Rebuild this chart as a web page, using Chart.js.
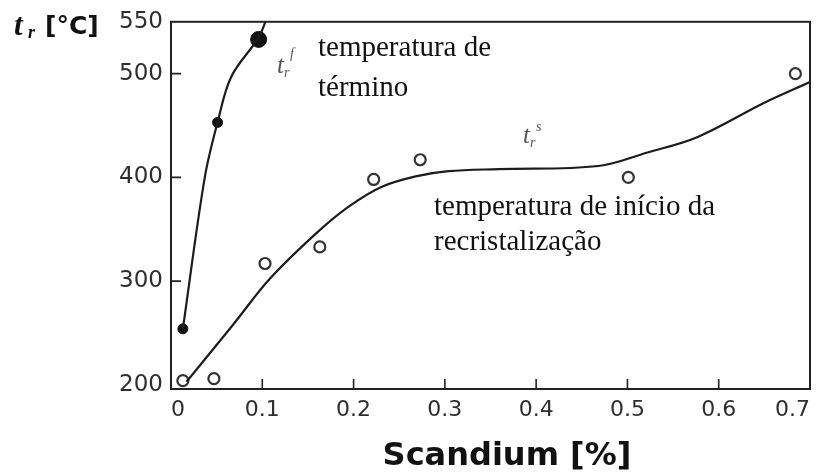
<!DOCTYPE html>
<html>
<head>
<meta charset="utf-8">
<script src="https://cdn.jsdelivr.net/npm/chart.js@4"></script>
<style>
  html, body { margin: 0; padding: 0; background: #fff; }
  #chart { display: block; }
</style>
</head>
<body>
<canvas id="chart" width="819" height="475"></canvas>
<script>
// recrystallisation temperatures vs scandium content
const xTicks = [0, 0.1, 0.2, 0.3, 0.4, 0.5, 0.6, 0.7];
const xTickLabels = ["0", "0.1", "0.2", "0.3", "0.4", "0.5", "0.6", "0.7"];
const yTicks = [200, 300, 400, 500, 550];
const yTickLabels = ["200", "300", "400", "500", "550"];

// end of recrystallisation (filled dots + curve)
const finishX = [0.013, 0.051, 0.096];
const finishY = [254, 453, 533];
const finishSize = [5, 5, 8];
const finishCurveX = [0.013, 0.037, 0.051, 0.066, 0.096, 0.106];
const finishCurveY = [254, 400, 453, 497, 535, 556];

// start of recrystallisation (open dots + curve)
const startX = [0.013, 0.047, 0.103, 0.163, 0.222, 0.273, 0.501, 0.684];
const startY = [204, 206, 317, 333, 398, 417, 400, 500];
const startCurveX = [0.017, 0.068, 0.108, 0.159, 0.195, 0.231, 0.268, 0.304, 0.359, 0.468, 0.522, 0.577, 0.65, 0.7];
const startCurveY = [203, 258, 302, 346, 372, 391, 401, 406, 408, 411, 424, 439, 472, 492];

const toPts = (xs, ys) => xs.map((x, i) => ({ x: x, y: ys[i] }));

const sansFont = "'DejaVu Sans', sans-serif";
const serifFont = "'Liberation Serif', 'Times New Roman', serif";

// frame, inward tick marks and the text annotations
const decor = {
    id: "decor",
    afterDraw(chart) {
        const c = chart.ctx;
        const a = chart.chartArea;
        const xs = chart.scales.x;
        const ys = chart.scales.y;
        c.save();
        c.strokeStyle = "#222";
        c.lineWidth = 2;
        c.strokeRect(a.left, a.top, a.right - a.left, a.bottom - a.top);

        c.lineWidth = 1.6;
        c.beginPath();
        [300, 400, 500].forEach(v => {
            const p = ys.getPixelForValue(v);
            c.moveTo(a.left, p);
            c.lineTo(a.left + 10, p);
        });
        xTicks.slice(1, -1).forEach(v => {
            const p = xs.getPixelForValue(v);
            c.moveTo(p, a.bottom);
            c.lineTo(p, a.bottom - 10);
        });
        c.stroke();

        // y title  t_r [°C]
        c.fillStyle = "#111";
        c.textBaseline = "alphabetic";
        c.textAlign = "left";
        c.font = "bold italic 31px " + serifFont;
        c.fillText("t", 14, 35);
        c.font = "bold italic 18px " + serifFont;
        c.fillText("r", 28, 38);
        c.font = "bold 25px " + sansFont;
        c.fillText("[°C]", 45, 34);

        // x title
        c.textAlign = "center";
        c.font = "bold 32px " + sansFont;
        c.fillText("Scandium [%]", 507, 465);

        // annotations
        c.textAlign = "left";
        c.fillStyle = "#111";
        c.font = "29px " + serifFont;
        c.fillText("temperatura de", 318, 56);
        c.fillText("término", 318, 96);
        c.fillText("temperatura de início da", 434, 215);
        c.fillText("recristalização", 434, 250);

        c.fillStyle = "#555";
        c.font = "italic 25px " + serifFont;
        c.fillText("t", 277, 73);
        c.fillText("t", 523, 143);
        c.font = "italic 14px " + serifFont;
        c.fillText("r", 284, 77);
        c.fillText("f", 290, 58);
        c.fillText("r", 530, 147);
        c.fillText("s", 536, 131);
        c.restore();
    }
};

new Chart(document.getElementById("chart"), {
    type: "scatter",
    data: {
        datasets: [
            {
                data: toPts(finishCurveX, finishCurveY),
                showLine: true,
                pointRadius: 0,
                borderColor: "#1c1c1c",
                borderWidth: 2.2,
                tension: 0.35
            },
            {
                data: toPts(startCurveX, startCurveY),
                showLine: true,
                pointRadius: 0,
                borderColor: "#1c1c1c",
                borderWidth: 2.2,
                tension: 0.35
            },
            {
                data: toPts(finishX, finishY),
                pointRadius: finishSize,
                backgroundColor: "#111",
                borderColor: "#111",
                borderWidth: 1
            },
            {
                data: toPts(startX, startY),
                pointRadius: 5.5,
                backgroundColor: "#fff",
                borderColor: "#333",
                borderWidth: 2.2
            }
        ]
    },
    options: {
        responsive: false,
        animation: false,
        layout: { padding: { top: 15, right: 6, left: 0, bottom: 0 } },
        plugins: { legend: { display: false }, tooltip: { enabled: false } },
        scales: {
            x: {
                type: "linear",
                min: 0,
                max: 0.7,
                grid: { display: false, drawTicks: false },
                border: { display: false },
                afterBuildTicks: s => { s.ticks = xTicks.map(v => ({ value: v })); },
                afterFit: s => { s.height = 86; },
                ticks: {
                    align: "inner",
                    maxRotation: 0,
                    autoSkip: false,
                    padding: 8,
                    color: "#2e2e2e",
                    font: { family: sansFont, size: 22 },
                    callback: (v, i) => xTickLabels[i]
                }
            },
            y: {
                min: 196,
                max: 550,
                grid: { display: false, drawTicks: false },
                border: { display: false },
                afterBuildTicks: s => { s.ticks = yTicks.map(v => ({ value: v })); },
                afterFit: s => { s.width = 171; },
                ticks: {
                    padding: 8,
                    autoSkip: false,
                    color: "#2e2e2e",
                    font: { family: sansFont, size: 23 },
                    callback: (v, i) => yTickLabels[i]
                }
            }
        }
    },
    plugins: [decor]
});
</script>
</body>
</html>
